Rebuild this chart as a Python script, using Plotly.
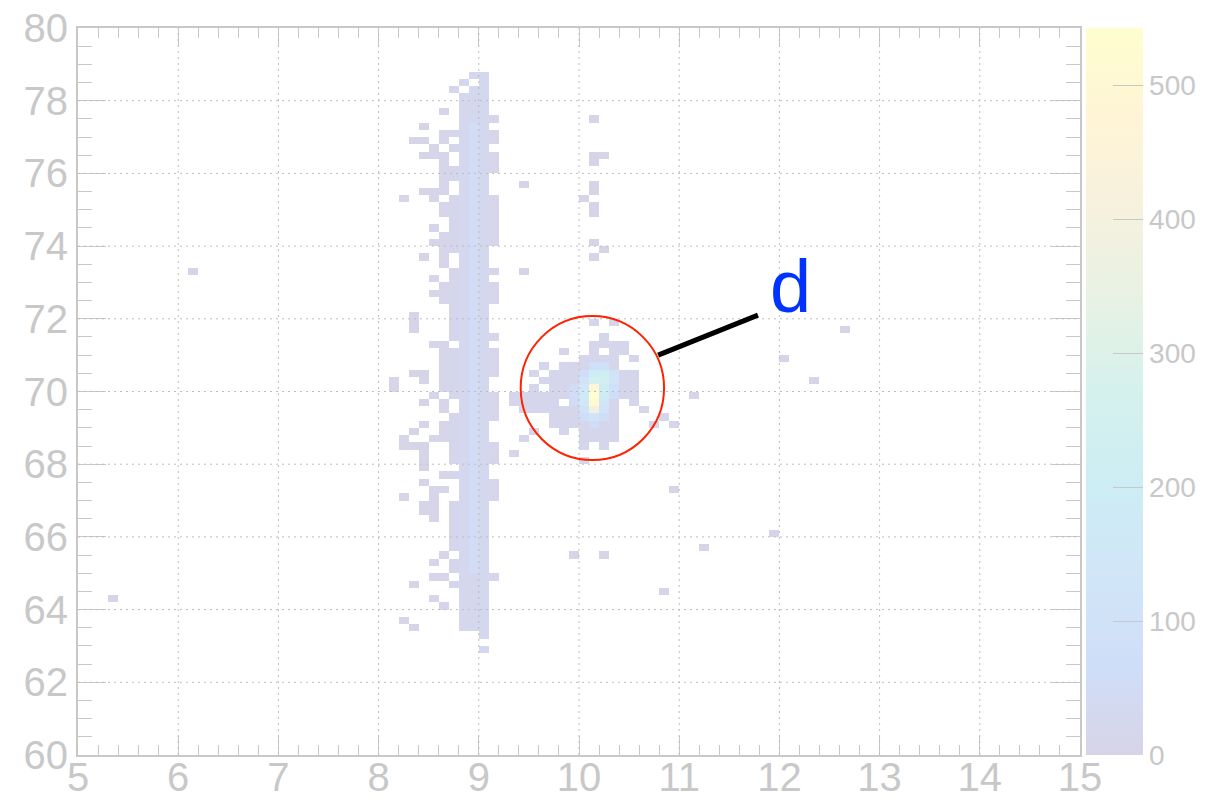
import plotly.graph_objects as go

# ---------------- data ----------------
X_MIN, X_MAX, NX = 5.0, 15.0, 100
Y_MIN, Y_MAX, NY = 60.0, 80.0, 100

# main vertical band: (row lower edge, [x-bin lower edges that are filled])
band_rows = [
    (78.6, [8.9, 9.0]),
    (78.4, [8.8, 9.0]),
    (78.2, [8.7, 8.9, 9.0]),
    (78.0, [8.8, 8.9, 9.0]),
    (77.8, [8.8, 8.9, 9.0]),
    (77.6, [8.6, 8.8, 8.9, 9.0]),
    (77.4, [8.8, 8.9, 9.0, 9.1]),
    (77.2, [8.4, 8.8, 8.9, 9.0]),
    (77.0, [8.6, 8.7, 8.8, 8.9, 9.0, 9.1]),
    (76.8, [8.3, 8.4, 8.6, 8.8, 8.9, 9.0, 9.1]),
    (76.6, [8.5, 8.7, 8.8, 8.9, 9.0]),
    (76.4, [8.4, 8.5, 8.6, 8.8, 8.9, 9.0, 9.1]),
    (76.2, [8.6, 8.8, 8.9, 9.0, 9.1]),
    (76.0, [8.6, 8.7, 8.8, 8.9, 9.0, 9.1]),
    (75.8, [8.6, 8.7, 8.8, 8.9, 9.0]),
    (75.6, [8.6, 8.8, 8.9, 9.0]),
    (75.4, [8.4, 8.5, 8.6, 8.8, 8.9, 9.0]),
    (75.2, [8.2, 8.5, 8.7, 8.8, 8.9, 9.0, 9.1]),
    (75.0, [8.6, 8.7, 8.8, 8.9, 9.0, 9.1]),
    (74.8, [8.6, 8.7, 8.8, 8.9, 9.0, 9.1]),
    (74.6, [8.7, 8.8, 8.9, 9.0, 9.1]),
    (74.4, [8.5, 8.7, 8.8, 8.9, 9.0, 9.1]),
    (74.2, [8.6, 8.7, 8.8, 8.9, 9.0, 9.1]),
    (74.0, [8.5, 8.6, 8.7, 8.8, 8.9, 9.0, 9.1]),
    (73.8, [8.6, 8.7, 8.8, 8.9, 9.0]),
    (73.6, [8.4, 8.6, 8.8, 8.9, 9.0]),
    (73.4, [8.6, 8.8, 8.9, 9.0]),
    (73.2, [8.7, 8.8, 8.9, 9.0, 9.1]),
    (73.0, [8.5, 8.7, 8.8, 8.9, 9.0]),
    (72.8, [8.6, 8.7, 8.8, 8.9, 9.0, 9.1]),
    (72.6, [8.5, 8.6, 8.7, 8.8, 8.9, 9.0, 9.1]),
    (72.4, [8.6, 8.7, 8.8, 8.9, 9.0, 9.1]),
    (72.2, [8.7, 8.8, 8.9, 9.0]),
    (72.0, [8.3, 8.7, 8.8, 8.9, 9.0]),
    (71.8, [8.3, 8.7, 8.8, 8.9, 9.0]),
    (71.6, [8.3, 8.7, 8.8, 8.9, 9.0]),
    (71.4, [8.7, 8.8, 8.9, 9.0, 9.1]),
    (71.2, [8.5, 8.6, 8.8, 8.9, 9.0]),
    (71.0, [8.6, 8.7, 8.8, 8.9, 9.0, 9.1]),
    (70.8, [8.6, 8.7, 8.8, 8.9, 9.0, 9.1]),
    (70.6, [8.6, 8.7, 8.8, 8.9, 9.0, 9.1]),
    (70.4, [8.3, 8.4, 8.6, 8.7, 8.8, 8.9, 9.0, 9.1]),
    (70.2, [8.1, 8.4, 8.6, 8.7, 8.8, 8.9, 9.0]),
    (70.0, [8.1, 8.6, 8.7, 8.8, 8.9, 9.0]),
    (69.8, [8.5, 8.7, 8.8, 8.9, 9.0, 9.1]),
    (69.6, [8.4, 8.6, 8.8, 8.9, 9.0, 9.1]),
    (69.4, [8.6, 8.8, 8.9, 9.0, 9.1]),
    (69.2, [8.7, 8.8, 8.9, 9.0, 9.1]),
    (69.0, [8.4, 8.6, 8.7, 8.8, 8.9, 9.0]),
    (68.8, [8.3, 8.6, 8.7, 8.8, 8.9, 9.0]),
    (68.6, [8.2, 8.5, 8.6, 8.7, 8.8, 8.9, 9.0]),
    (68.4, [8.2, 8.3, 8.4, 8.7, 8.8, 8.9, 9.0, 9.1]),
    (68.2, [8.4, 8.7, 8.8, 8.9, 9.0, 9.1]),
    (68.0, [8.4, 8.7, 8.8, 8.9, 9.0, 9.1]),
    (67.8, [8.4, 8.8, 8.9, 9.0]),
    (67.6, [8.6, 8.7, 8.8, 8.9, 9.0]),
    (67.4, [8.4, 8.8, 8.9, 9.0, 9.1]),
    (67.2, [8.5, 8.6, 8.8, 8.9, 9.0, 9.1]),
    (67.0, [8.2, 8.5, 8.8, 8.9, 9.0, 9.1]),
    (66.8, [8.4, 8.5, 8.7, 8.8, 8.9, 9.0]),
    (66.6, [8.4, 8.5, 8.7, 8.8, 8.9, 9.0]),
    (66.4, [8.5, 8.7, 8.8, 8.9, 9.0]),
    (66.2, [8.7, 8.8, 8.9, 9.0]),
    (66.0, [8.7, 8.8, 8.9, 9.0]),
    (65.8, [8.7, 8.8, 8.9, 9.0]),
    (65.6, [8.7, 8.8, 8.9, 9.0]),
    (65.4, [8.6, 8.8, 8.9, 9.0]),
    (65.2, [8.5, 8.7, 8.8, 8.9, 9.0]),
    (65.0, [8.7, 8.8, 8.9, 9.0]),
    (64.8, [8.5, 8.6, 8.8, 8.9, 9.0, 9.1]),
    (64.6, [8.3, 8.7, 8.8, 8.9, 9.0]),
    (64.4, [8.8, 8.9, 9.0]),
    (64.2, [8.5, 8.8, 8.9, 9.0]),
    (64.0, [8.6, 8.8, 8.9, 9.0]),
    (63.8, [8.8, 8.9, 9.0]),
    (63.6, [8.2, 8.8, 8.9, 9.0]),
    (63.4, [8.3, 8.8, 8.9, 9.0]),
    (63.2, [9.0]),
    (62.8, [9.0]),
]
# typical count of a filled band cell, per x bin
band_counts = {8.1: 4, 8.2: 4, 8.3: 5, 8.4: 5, 8.5: 6, 8.6: 10, 8.7: 14,
               8.8: 22, 8.9: 30, 9.0: 26, 9.1: 7}
# the x = 8.9 column is brighter in its middle part: (y from, y to, count)
band_center_counts = [(65.0, 77.4, 55)]

# cluster around (10.1, 70): (row lower edge, [x-bin lower edges])
cluster_rows = [
    (71.8, [10.1, 10.3]),
    (71.4, [10.2]),
    (71.2, [10.1, 10.2, 10.3, 10.4]),
    (71.0, [9.8, 10.1, 10.3, 10.4]),
    (70.8, [10.0, 10.1, 10.2, 10.3, 10.5]),
    (70.6, [9.6, 9.8, 9.9, 10.0, 10.1, 10.2, 10.3]),
    (70.4, [9.5, 9.7, 9.8, 9.9, 10.0, 10.1, 10.2, 10.3, 10.4, 10.5]),
    (70.2, [9.6, 9.7, 9.8, 9.9, 10.0, 10.1, 10.2, 10.3, 10.4, 10.5]),
    (70.0, [9.5, 9.7, 9.8, 9.9, 10.0, 10.1, 10.2, 10.3, 10.4, 10.5]),
    (69.8, [9.3, 9.4, 9.5, 9.6, 9.7, 9.8, 9.9, 10.0, 10.1, 10.2, 10.3, 10.4, 10.5]),
    (69.6, [9.3, 9.4, 9.5, 9.6, 9.7, 9.9, 10.0, 10.1, 10.2, 10.3, 10.5]),
    (69.4, [9.4, 9.5, 9.6, 9.7, 9.8, 9.9, 10.0, 10.1, 10.2, 10.3, 10.6]),
    (69.2, [9.7, 9.8, 9.9, 10.0, 10.1, 10.2, 10.3, 10.8]),
    (69.0, [9.7, 9.8, 9.9, 10.0, 10.1, 10.2, 10.3, 10.7, 10.9]),
    (68.8, [9.5, 9.8, 10.0, 10.1, 10.2, 10.3]),
    (68.6, [9.4, 10.0, 10.1, 10.2, 10.3]),
    (68.4, [10.0, 10.2]),
    (68.2, [9.3]),
    (68.0, [10.0]),
]
cluster_base_count = 15
# brighter cells of the cluster: (x, y, count)
cluster_hot = [
    (10.1, 70.6, 80), (10.1, 70.4, 190), (10.1, 70.2, 260), (10.1, 70.0, 470),
    (10.1, 69.8, 543), (10.1, 69.6, 500), (10.1, 69.4, 390), (10.1, 69.2, 120),
    (10.1, 69.0, 60),
    (10.2, 70.6, 90), (10.2, 70.4, 220), (10.2, 70.2, 240), (10.2, 70.0, 200),
    (10.2, 69.8, 170), (10.2, 69.6, 140), (10.2, 69.4, 110), (10.2, 69.2, 60),
    (10.0, 70.4, 70), (10.0, 70.2, 110), (10.0, 70.0, 150), (10.0, 69.8, 160),
    (10.0, 69.6, 150), (10.0, 69.4, 110), (10.0, 69.2, 70),
    (10.3, 70.4, 120), (10.3, 70.2, 130), (10.3, 70.0, 90), (10.3, 69.8, 70),
    (9.9, 70.0, 50), (9.9, 69.8, 60), (9.9, 69.6, 50),
]

# isolated cells: (x, y, count)
scatter_cells = [
    (6.1, 73.2, 2), (5.3, 64.2, 2), (9.4, 75.6, 2), (9.4, 73.2, 2),
    (10.1, 77.4, 2), (10.1, 76.4, 2), (10.2, 76.4, 2), (10.1, 76.2, 2),
    (10.1, 75.6, 2), (10.1, 75.4, 2), (10.0, 75.2, 2), (10.1, 75.0, 2),
    (10.1, 74.8, 2), (10.1, 74.0, 2), (10.2, 73.8, 2), (10.1, 73.6, 2),
    (12.6, 71.6, 2), (12.0, 70.8, 2), (12.3, 70.2, 2), (11.1, 69.8, 2),
    (10.9, 67.2, 2), (11.9, 66.0, 2), (11.2, 65.6, 2), (10.8, 64.4, 2),
    (9.9, 65.4, 2), (10.2, 65.4, 2),
]

x_ticks = list(range(5, 16))
y_ticks = list(range(60, 81, 2))
z_ticks = [0, 100, 200, 300, 400, 500]
Z_MAX = 543

# ---------------- build histogram grid ----------------
dx = (X_MAX - X_MIN) / NX
dy = (Y_MAX - Y_MIN) / NY
z = [[None] * NX for _ in range(NY)]


def put(x, y, v):
    ix = int(round((x - X_MIN) / dx))
    iy = int(round((y - Y_MIN) / dy))
    if 0 <= ix < NX and 0 <= iy < NY:
        z[iy][ix] = v


for yl, xs in band_rows:
    for xl in xs:
        v = band_counts[xl]
        if abs(xl - 8.9) < 1e-6:
            for y0, y1, c in band_center_counts:
                if y0 - 1e-6 <= yl < y1 - 1e-6:
                    v = c
        put(xl, yl, v)
for yl, xs in cluster_rows:
    for xl in xs:
        put(xl, yl, cluster_base_count)
for xl, yl, c in cluster_hot:
    put(xl, yl, c)
for xl, yl, c in scatter_cells:
    put(xl, yl, c)

x_centers = [X_MIN + dx * (i + 0.5) for i in range(NX)]
y_centers = [Y_MIN + dy * (j + 0.5) for j in range(NY)]

# faded kBird palette
bird = [(215, 212, 231), (207, 222, 248), (208, 230, 247), (205, 237, 244),
        (213, 241, 237), (231, 242, 228), (246, 241, 222), (255, 244, 214),
        (254, 254, 207)]
colorscale = [[i / (len(bird) - 1), "rgb(%d,%d,%d)" % c] for i, c in enumerate(bird)]

GREY = "#c8c8c8"
FONT = "Liberation Sans, Arial, sans-serif"

fig = go.Figure()
fig.add_trace(go.Heatmap(
    x=x_centers, y=y_centers, z=z,
    zmin=0, zmax=Z_MAX, colorscale=colorscale,
    hoverongaps=False,
    colorbar=dict(
        x=1.006, xanchor="left", xpad=0, y=0.5, yanchor="middle",
        len=1.0, lenmode="fraction", thickness=57, thicknessmode="pixels",
        outlinewidth=0, ypad=0,
        tickvals=z_ticks, ticks="inside", ticklen=30, tickcolor=GREY,
        tickwidth=1,
        tickfont=dict(family=FONT, size=28, color=GREY),
    ),
))

# dotted grid drawn on top of the cells (as ROOT does)
shapes = []
for xv in x_ticks[1:-1]:
    shapes.append(dict(type="line", xref="x", yref="y", x0=xv, x1=xv,
                       y0=Y_MIN, y1=Y_MAX, layer="above",
                       line=dict(color="#bdbdbd", width=1, dash="2px,4px")))
for yv in y_ticks[1:-1]:
    shapes.append(dict(type="line", xref="x", yref="y", x0=X_MIN, x1=X_MAX,
                       y0=yv, y1=yv, layer="above",
                       line=dict(color="#bdbdbd", width=1, dash="2px,4px")))
# annotation circle and pointer line
shapes.append(dict(type="circle", xref="x", yref="y",
                   x0=9.418, x1=10.849, y0=68.115, y1=72.077, layer="above",
                   line=dict(color="#ff2200", width=2)))
shapes.append(dict(type="line", xref="x", yref="y",
                   x0=10.79, y0=71.0, x1=11.786, y1=72.10, layer="above",
                   line=dict(color="black", width=5)))

fig.update_layout(
    width=1219, height=800,
    margin=dict(l=78, r=139, t=28, b=45, autoexpand=False),
    paper_bgcolor="white", plot_bgcolor="white",
    shapes=shapes,
    annotations=[dict(x=12.106, y=72.9, xref="x", yref="y", text="d",
                      showarrow=False, xanchor="center", yanchor="middle",
                      font=dict(family=FONT, size=74, color="#0033ff"))],
    xaxis=dict(
        range=[X_MIN, X_MAX], tickvals=x_ticks, showgrid=False, zeroline=False,
        automargin=False,
        showline=True, linecolor=GREY, linewidth=2, mirror="ticks",
        ticks="inside", ticklen=19, tickcolor=GREY, tickwidth=1,
        minor=dict(dtick=0.2, ticks="inside", ticklen=10, tickcolor=GREY, showgrid=False),
        tickfont=dict(family=FONT, size=40, color=GREY),
        ticklabelstandoff=-14,
    ),
    yaxis=dict(
        range=[Y_MIN, Y_MAX], tickvals=y_ticks, showgrid=False, zeroline=False,
        automargin=False,
        showline=True, linecolor=GREY, linewidth=2, mirror="ticks",
        ticks="inside", ticklen=28, tickcolor=GREY, tickwidth=1,
        minor=dict(dtick=0.5, ticks="inside", ticklen=14, tickcolor=GREY, showgrid=False),
        tickfont=dict(family=FONT, size=40, color=GREY),
    ),
)

fig.write_html("out.html")
